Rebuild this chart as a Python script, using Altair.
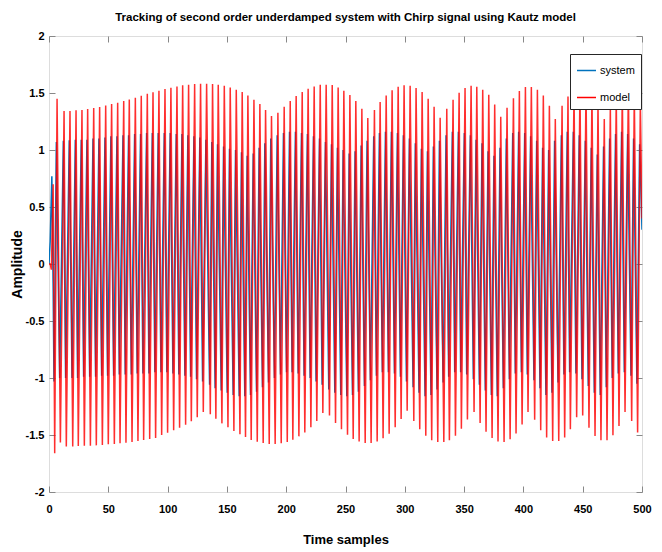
import altair as alt
import pandas as pd

# ---------------- data ----------------
x_ticks = [0, 50, 100, 150, 200, 250, 300, 350, 400, 450, 500]
y_ticks = [-2, -1.5, -1, -0.5, 0, 0.5, 1, 1.5, 2]

# start-up transient
red_start_t = [0, 1, 2, 3.5]
red_start_v = [0, 0, -0.05, 0.70]
blue_start_t = [0, 1, 2.4, 3.5]
blue_start_v = [0, 0.2, 0.77, -0.2]

# the system output leads the model output by about half a sample
system_lead = 0.6

# time of each positive peak (samples)
peak_t = [6.8, 12.7, 17.7, 22.8, 27.8, 32.6, 37.7, 42.7, 47.8, 52.8, 57.9, 63.0, 67.7, 72.8, 77.8, 82.9,
          87.7, 92.7, 97.8, 102.8, 107.9, 112.7, 117.7, 122.8, 127.8, 132.9, 137.9, 142.7, 147.8, 152.8, 157.9, 162.9,
          167.7, 172.8, 177.8, 182.6, 187.6, 193.0, 198.3, 203.4, 208.4, 213.5, 218.5, 223.6, 228.7, 233.7, 238.8, 243.8,
          248.6, 253.7, 258.7, 263.8, 268.8, 274.4, 279.2, 284.3, 289.3, 294.4, 299.4, 304.5, 309.5, 314.6, 319.7, 324.7,
          329.8, 335.4, 340.7, 345.8, 350.8, 355.9, 360.7, 365.7, 370.8, 375.8, 380.9, 386.2, 391.6, 396.6, 401.7, 406.7,
          411.8, 416.8, 421.9, 426.9, 432.6, 437.6, 442.7, 447.7, 452.8, 457.8, 462.9, 468.2, 473.3, 478.3, 483.4, 488.5,
          493.5, 498.6]

# time of each negative peak (samples)
trough_t = [4.8, 9.6, 14.6, 20.0, 24.7, 29.8, 34.9, 39.9, 45.0, 50.0, 55.1, 59.9, 64.9, 70.0, 75.0, 79.8,
            84.9, 89.9, 95.0, 100.0, 105.1, 110.1, 115.2, 120.0, 125.0, 130.1, 136.0, 140.7, 145.8, 150.9, 155.9, 161.0,
            165.7, 170.5, 175.6, 180.6, 185.7, 190.7, 195.8, 200.9, 205.6, 210.7, 215.7, 220.8, 225.8, 230.9, 236.5, 241.6,
            246.6, 251.7, 256.5, 261.5, 266.6, 271.6, 276.7, 281.7, 286.8, 291.9, 296.9, 302.0, 307.6, 312.6, 317.7, 322.7,
            327.8, 332.9, 337.6, 342.7, 347.7, 352.8, 358.4, 363.5, 368.5, 373.6, 378.6, 383.7, 388.8, 393.8, 398.9, 403.9,
            409.5, 414.6, 419.6, 424.7, 429.8, 434.8, 439.6, 444.9, 450.0, 455.3, 460.4, 465.4, 470.5, 475.5, 480.6, 485.7,
            491.3, 496.3]

# model (red) peak / trough amplitudes
model_peak = [1.450, 1.342, 1.342, 1.348, 1.351, 1.359, 1.368, 1.377, 1.391, 1.403, 1.415, 1.430, 1.444, 1.459, 1.476, 1.494,
              1.506, 1.520, 1.535, 1.546, 1.558, 1.567, 1.573, 1.579, 1.582, 1.582, 1.579, 1.573, 1.564, 1.549, 1.529, 1.509,
              1.479, 1.441, 1.403, 1.351, 1.298, 1.327, 1.380, 1.430, 1.473, 1.509, 1.538, 1.558, 1.573, 1.573, 1.570, 1.549,
              1.520, 1.482, 1.430, 1.362, 1.280, 1.351, 1.421, 1.479, 1.523, 1.555, 1.567, 1.564, 1.544, 1.509, 1.450, 1.380,
              1.283, 1.362, 1.441, 1.503, 1.544, 1.564, 1.555, 1.529, 1.485, 1.400, 1.292, 1.371, 1.453, 1.517, 1.552, 1.552,
              1.529, 1.479, 1.389, 1.272, 1.389, 1.470, 1.530, 1.560, 1.550, 1.510, 1.420, 1.272, 1.380, 1.470, 1.530, 1.550,
              1.508, 1.427]
model_trough = [-1.661, -1.565, -1.600, -1.600, -1.597, -1.594, -1.594, -1.591, -1.588, -1.582, -1.579, -1.573, -1.568, -1.562, -1.553, -1.544,
                -1.535, -1.526, -1.500, -1.480, -1.459, -1.436, -1.410, -1.380, -1.345, -1.298, -1.319, -1.357, -1.398, -1.433, -1.465, -1.494,
                -1.518, -1.544, -1.559, -1.571, -1.579, -1.579, -1.573, -1.562, -1.541, -1.512, -1.477, -1.433, -1.377, -1.307, -1.328, -1.395,
                -1.450, -1.497, -1.535, -1.556, -1.571, -1.571, -1.556, -1.529, -1.489, -1.433, -1.359, -1.287, -1.377, -1.450, -1.506, -1.547,
                -1.562, -1.562, -1.547, -1.506, -1.445, -1.363, -1.298, -1.395, -1.471, -1.526, -1.556, -1.562, -1.538, -1.486, -1.407, -1.298,
                -1.366, -1.459, -1.521, -1.553, -1.553, -1.521, -1.450, -1.345, -1.328, -1.436, -1.509, -1.547, -1.547, -1.503, -1.421, -1.298,
                -1.377, -1.477]

# system (blue) peak / trough amplitudes
system_peak = [1.07, 1.08, 1.085, 1.09, 1.09, 1.09, 1.10, 1.10, 1.11, 1.12, 1.12, 1.13, 1.13, 1.14, 1.14, 1.15,
               1.15, 1.15, 1.15, 1.15, 1.14, 1.14, 1.13, 1.12, 1.11, 1.09, 1.07, 1.05, 1.03, 1.01, 1.00, 0.98,
               0.95, 0.97, 1.02, 1.06, 1.10, 1.13, 1.15, 1.16, 1.16, 1.15, 1.14, 1.12, 1.10, 1.07, 1.05, 1.02,
               1.00, 0.97, 0.99, 1.04, 1.08, 1.12, 1.15, 1.16, 1.16, 1.15, 1.13, 1.10, 1.06, 1.01, 0.99, 1.03,
               1.08, 1.13, 1.16, 1.16, 1.15, 1.13, 1.09, 1.06, 0.99, 0.95, 1.02, 1.10, 1.15, 1.16, 1.15, 1.12,
               1.08, 1.02, 1.00, 1.08, 1.13, 1.16, 1.16, 1.13, 1.08, 1.02, 0.96, 1.03, 1.10, 1.14, 1.16, 1.14,
               1.10, 1.05]
system_trough = [-1.03, -1.00, -1.00, -1.00, -1.00, -0.99, -0.99, -0.99, -0.98, -0.98, -0.98, -0.97, -0.97, -0.97, -0.96, -0.96,
                 -0.96, -0.95, -0.95, -0.95, -0.96, -0.97, -0.98, -0.99, -1.01, -1.03, -1.06, -1.09, -1.11, -1.13, -1.15, -1.16,
                 -1.16, -1.15, -1.12, -1.08, -1.04, -1.00, -0.97, -0.95, -0.95, -0.96, -0.98, -1.00, -1.03, -1.06, -1.10, -1.13,
                 -1.15, -1.16, -1.15, -1.12, -1.07, -1.02, -0.98, -0.95, -0.95, -0.96, -0.99, -1.03, -1.08, -1.13, -1.16, -1.15,
                 -1.10, -1.04, -0.99, -0.95, -0.95, -0.97, -1.01, -1.06, -1.11, -1.15, -1.16, -1.09, -1.01, -0.96, -0.95, -0.97,
                 -1.02, -1.09, -1.15, -1.13, -1.04, -0.97, -0.95, -0.96, -1.01, -1.07, -1.13, -1.15, -1.08, -1.00, -0.96, -0.95,
                 -0.98, -1.05]

end_t = [500]
model_end = [0.40]
system_end = [0.30]


# ---------------- build tables ----------------
def build(name, st_t, st_v, pk, tr, end_v, lead=0.0):
    pts = (list(zip(st_t, st_v))
           + [(t - lead, v) for t, v in zip(peak_t, pk)]
           + [(t - lead, v) for t, v in zip(trough_t, tr)]
           + list(zip(end_t, end_v)))
    pts.sort(key=lambda p: p[0])
    return pd.DataFrame({"t": [p[0] for p in pts], "v": [p[1] for p in pts], "series": name})


df_sys = build("system", blue_start_t, blue_start_v, system_peak, system_trough, system_end, system_lead)
df_mod = build("model", red_start_t, red_start_v, model_peak, model_trough, model_end)

FONT = "Liberation Sans, Arial, sans-serif"
AX = "#262626"

color = alt.Color(
    "series:N",
    scale=alt.Scale(domain=["system", "model"], range=["#0072BD", "#FF0000"]),
    legend=alt.Legend(
        title="", orient="none", legendX=521, legendY=18,
        symbolType="stroke", symbolSize=360, symbolStrokeWidth=1.5, symbolOpacity=1,
        labelFont=FONT, labelFontSize=11, labelColor="#000000", labelOffset=3,
        padding=6, rowPadding=11, strokeColor=AX, fillColor="white",
    ),
)

xscale = alt.Scale(domain=[0, 500], nice=False, zero=False)
yscale = alt.Scale(domain=[-2, 2], nice=False, zero=False)

sys_layer = alt.Chart(df_sys).mark_line(strokeWidth=1.5, clip=True).encode(
    x=alt.X("t:Q", scale=xscale, axis=alt.Axis(
        orient="bottom", values=x_ticks, domain=False, grid=False, tickSize=6, offset=-6,
        labelFlush=False, labelPadding=11, labelFont=FONT, labelFontSize=11, labelFontWeight="bold",
        title="Time samples", titleFont=FONT, titleFontSize=13, titleFontWeight="bold", titlePadding=19)),
    y=alt.Y("v:Q", scale=yscale, axis=alt.Axis(
        orient="left", values=y_ticks, domain=False, grid=False, tickSize=6, offset=-6,
        labelPadding=5, labelFont=FONT, labelFontSize=11, labelFontWeight="bold",
        labelExpr="'' + datum.value",
        title="Amplitude", titleFont=FONT, titleFontSize=14,
        titleFontWeight="bold", titlePadding=1)),
    color=color,
)

mod_layer = alt.Chart(df_mod).mark_line(strokeWidth=1.5, strokeOpacity=0.82, clip=True).encode(
    x=alt.X("t:Q", scale=xscale, axis=alt.Axis(
        orient="top", values=x_ticks, domain=False, grid=False, labels=False, tickSize=6, offset=-6, title="")),
    y=alt.Y("v:Q", scale=yscale, axis=alt.Axis(
        orient="right", values=y_ticks, domain=False, grid=False, labels=False, tickSize=6, offset=-6, title="")),
    color=color,
)

chart = alt.layer(sys_layer, mod_layer).resolve_axis(
    x="independent", y="independent"
).properties(
    width=593, height=456,
    title=alt.TitleParams(
        "Tracking of second order underdamped system with Chirp signal using Kautz model",
        font=FONT, fontSize=11.5, fontWeight="bold", color="#000000", anchor="middle", offset=7),
    autosize=alt.AutoSizeParams(type="none"),
    padding={"left": 41, "top": 28, "right": 12, "bottom": 58},
).configure_view(
    stroke=AX, strokeWidth=1
).configure_axis(
    tickColor=AX, labelColor="#000000", titleColor="#000000", tickWidth=1
).configure(background="white")

chart.save("out.html", embed_options={"renderer": "svg", "actions": False})
